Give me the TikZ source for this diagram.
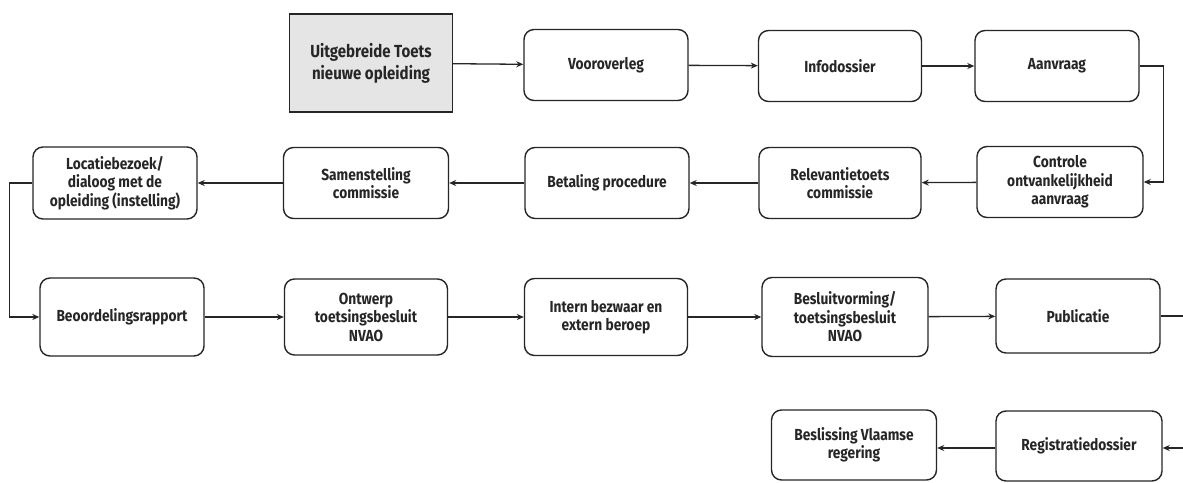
\documentclass[tikz,border=0pt]{standalone}
\usepackage{fontspec}
\setmainfont{Fira Sans}[FakeStretch=0.86]
\usetikzlibrary{arrows.meta}
\begin{document}
\begin{tikzpicture}[x=1pt,y=-1pt,
  stepbox/.style={draw=black!85, line width=1.4pt, rounded corners=10pt,
    align=center, inner sep=2pt, font=\fontsize{16}{18.5}\selectfont\bfseries,
    text=black!85},
  startbox/.style={stepbox, rounded corners=0pt, fill=black!10,
    font=\fontsize{17.5}{22}\selectfont\bfseries},
  flow/.style={draw=black!85, line width=1.3pt, -{Stealth[length=7pt,width=6pt]}},
  plain/.style={draw=black!85, line width=1.3pt}]
\useasboundingbox (0,0) rectangle (1183,482);
\clip (0,0) rectangle (1183,482);
\fill[white] (0,0) rectangle (1183,482);

% row 1
\node[startbox, minimum width=163pt, minimum height=98pt] (start) at (371,63) {Uitgebreide Toets\\nieuwe opleiding};
\node[stepbox, minimum width=164pt, minimum height=71pt] (voor) at (606,65) {Vooroverleg};
\node[stepbox, minimum width=163pt, minimum height=71pt] (info) at (840,66) {Infodossier};
\node[stepbox, minimum width=164pt, minimum height=71pt] (aanv) at (1057,66) {Aanvraag};

% row 2
\node[stepbox, minimum width=166pt, minimum height=71pt] (contr) at (1060,182) {Controle\\ontvankelijkheid\\aanvraag};
\node[stepbox, minimum width=162pt, minimum height=71pt] (relev) at (840,183) {Relevantietoets\\commissie};
\node[stepbox, minimum width=164pt, minimum height=71pt] (betal) at (607,183) {Betaling procedure};
\node[stepbox, minimum width=165pt, minimum height=71pt] (samen) at (366,183) {Samenstelling\\commissie};
\node[stepbox, minimum width=164pt, minimum height=72pt] (locat) at (115,183) {Locatiebezoek/\\dialoog met de\\opleiding (instelling)};

% row 3
\node[stepbox, minimum width=164pt, minimum height=78pt] (beoord) at (122,317) {Beoordelingsrapport};
\node[stepbox, minimum width=163pt, minimum height=76pt] (ontw) at (366,317) {Ontwerp\\toetsingsbesluit\\NVAO};
\node[stepbox, minimum width=163pt, minimum height=77pt] (intern) at (606,317) {Intern bezwaar en\\extern beroep};
\node[stepbox, minimum width=166pt, minimum height=79pt] (besl) at (845,317) {Besluitvorming/\\toetsingsbesluit\\NVAO};
\node[stepbox, minimum width=164pt, minimum height=74pt] (publ) at (1078,316) {Publicatie};

% row 4
\node[stepbox, minimum width=166pt, minimum height=70pt] (regis) at (1079,446) {Registratiedossier};
\node[stepbox, minimum width=165pt, minimum height=70pt] (vlaam) at (854,445) {Beslissing Vlaamse\\regering};

% free ends beyond the right edge
\coordinate (pubout) at (1200,316);
\coordinate (regin) at (1200,448);

% connectors
\draw[flow] (start) -- (voor);
\draw[flow] (voor) -- (info);
\draw[flow] (info) -- (aanv);
\draw[flow] (aanv.east) -- ++(24,0) |- (contr.east);
\draw[flow] (contr) -- (relev);
\draw[flow] (relev) -- (betal);
\draw[flow] (betal) -- (samen);
\draw[flow] (samen) -- (locat);
\draw[flow] (locat.west) -- ++(-23,0) |- (beoord.west);
\draw[flow] (beoord) -- (ontw);
\draw[flow] (ontw) -- (intern);
\draw[flow] (intern) -- (besl);
\draw[flow] (besl) -- (publ);
\draw[plain] (publ.east) -- (pubout);
\draw[flow] (regin) -- (regis.east |- regin);
\draw[flow] (regis.west |- 0,448) -- (vlaam.east |- 0,448);
\end{tikzpicture}
\end{document}
